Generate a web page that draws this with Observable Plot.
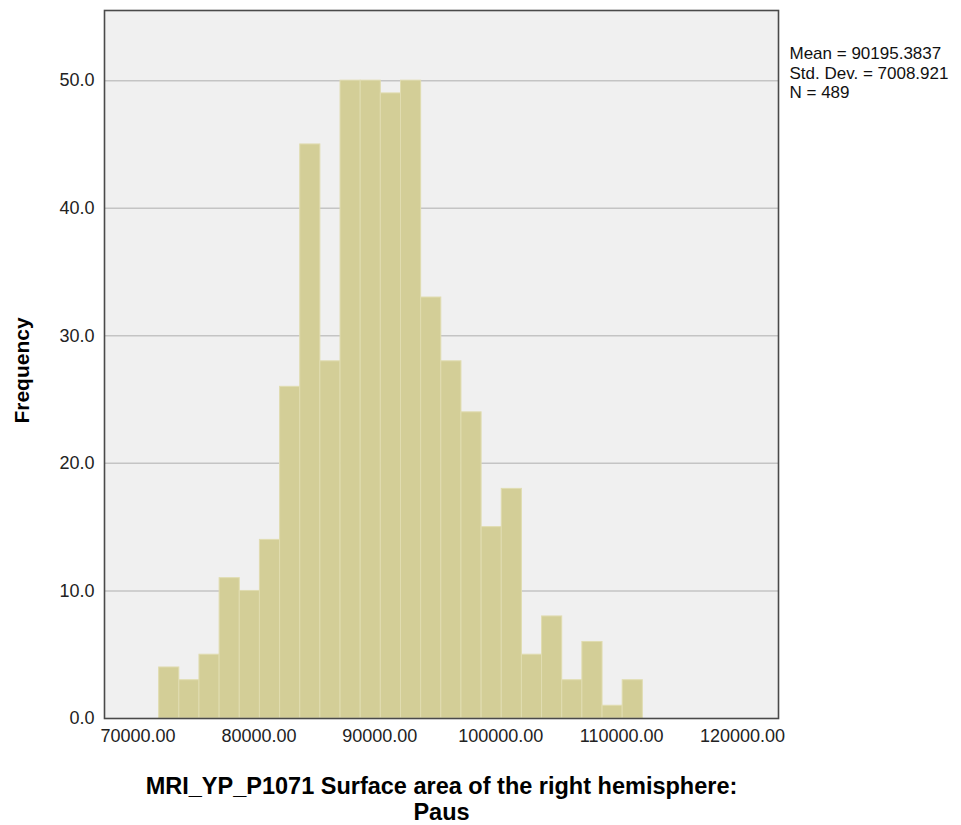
<!DOCTYPE html>
<html>
<head>
<meta charset="utf-8">
<script src="https://cdn.jsdelivr.net/npm/d3@7"></script>
<script src="https://cdn.jsdelivr.net/npm/@observablehq/plot@0.6"></script>
<style>
  html, body { margin: 0; padding: 0; background: #ffffff; }
</style>
</head>
<body>
<div id="chart"></div>
<script>
// Bin lower edges (surface area, mm²) and upper edges
const binStarts = [71750, 73417, 75083, 76750, 78417, 80083, 81750, 83417, 85083, 86750, 88417, 90083,
                   91750, 93417, 95083, 96750, 98417, 100083, 101750, 103417, 105083, 106750, 108417, 110083];
const binEnds   = [73417, 75083, 76750, 78417, 80083, 81750, 83417, 85083, 86750, 88417, 90083, 91750,
                   93417, 95083, 96750, 98417, 100083, 101750, 103417, 105083, 106750, 108417, 110083, 111750];
const counts    = [4, 3, 5, 11, 10, 14, 26, 45, 28, 50, 50, 49, 50, 33, 28, 24, 15, 18, 5, 8, 3, 6, 1, 3];

const xTicks = [70000, 80000, 90000, 100000, 110000, 120000];
const yTicks = [0, 10, 20, 30, 40, 50];
const gridTicks = [10, 20, 30, 40, 50];

const xTitle = "MRI_YP_P1071 Surface area of the right hemisphere:\nPaus";
const yTitle = "Frequency";
const statsLines = ["Mean = 90195.3837", "Std. Dev. = 7008.921", "N = 489"];

const bins = counts.map((c, i) => ({x1: binStarts[i], x2: binEnds[i], y: c}));

const font = "'Liberation Sans', Arial, sans-serif";

const chart = Plot.plot({
  width: 961,
  height: 825,
  marginLeft: 104,
  marginRight: 183,
  marginTop: 10,
  marginBottom: 107,
  style: {background: "#ffffff", fontFamily: font, color: "#222"},
  x: {domain: [67230, 122970]},
  y: {domain: [0, 55.5]},
  marks: [
    Plot.frame({fill: "#f0f0f0", stroke: null}),
    Plot.gridY(gridTicks, {stroke: "#c4c4c4", strokeOpacity: 1, strokeWidth: 1.5}),
    Plot.rectY(bins, {x1: "x1", x2: "x2", y: "y", fill: "#d3ce97", stroke: "#e0dcb0", strokeWidth: 1}),
    Plot.frame({stroke: "#4a4a4a", strokeWidth: 1.6}),
    Plot.axisX(xTicks, {tickSize: 0, tickPadding: 11, fontSize: 18, tickFormat: d => d.toFixed(2), label: null, fill: "#222"}),
    Plot.axisY(yTicks, {tickSize: 0, tickPadding: 10, fontSize: 18, tickFormat: d => d.toFixed(1), label: null, fill: "#222"}),
    Plot.text([xTitle], {frameAnchor: "bottom", dy: 80, lineAnchor: "middle", lineHeight: 1.12,
      fontSize: 23.5, fontWeight: "bold", fill: "#000", text: d => d}),
    Plot.text([yTitle], {frameAnchor: "left", dx: -82, dy: 6, rotate: -90, textAnchor: "middle",
      fontSize: 21, fontWeight: "bold", fill: "#000", text: d => d}),
    Plot.text([statsLines.join("\n")], {frameAnchor: "top-right", dx: 11, dy: 35, textAnchor: "start",
      lineAnchor: "top", lineHeight: 1.15, fontSize: 17, fill: "#111", text: d => d})
  ]
});

document.getElementById("chart").appendChild(chart);
</script>
</body>
</html>
